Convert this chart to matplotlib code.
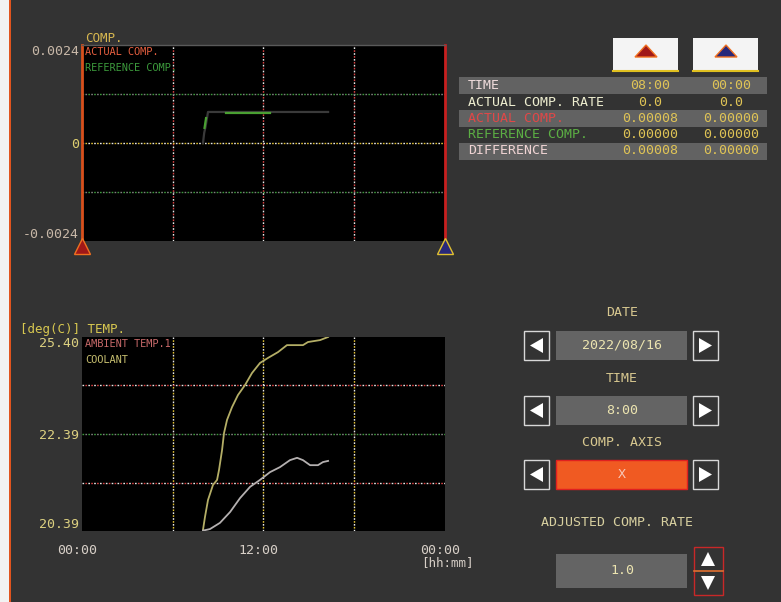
import matplotlib
matplotlib.use("Agg")
import matplotlib.pyplot as plt
import matplotlib.transforms as mtransforms
from matplotlib.patches import Rectangle, Polygon
import numpy as np

W, H = 781, 602
BG = "#333333"
MONO = "DejaVu Sans Mono"

# ---------------- data ----------------
# compensation trace (hours since 00:00)
comp_hours = [8.0, 8.08, 8.17, 8.33, 12.0, 16.27]
actual_comp = [0.0, 0.00025, 0.00040, 0.00076, 0.00076, 0.00076]
ref_hours = [8.10, 8.20, np.nan, 9.52, 12.43]
reference_comp = [0.00037, 0.00061, np.nan, 0.000735, 0.000735]
comp_ticks = [-0.0024, 0.0, 0.0024]
comp_tick_labels = ["-0.0024", "0", "0.0024"]

# temperature traces [deg C]
ambient_hours = [8.0, 8.13, 8.33, 8.66, 8.93, 9.06, 9.26, 9.39, 9.59, 9.92, 10.31,
                 10.78, 11.24, 11.77, 12.30, 12.96, 13.55, 14.61, 14.94, 15.74, 16.27]
ambient_temp = [20.42, 20.75, 21.19, 21.58, 21.71, 21.97, 22.48, 22.92, 23.26, 23.59, 23.90,
                24.16, 24.47, 24.73, 24.86, 25.01, 25.19, 25.19, 25.27, 25.32, 25.40]
coolant_hours = [8.0, 8.46, 9.12, 9.79, 10.45, 11.11, 11.77, 12.43, 13.09, 13.75,
                 14.22, 14.61, 15.08, 15.60, 15.93, 16.27]
coolant_temp = [20.40, 20.44, 20.60, 20.88, 21.24, 21.53, 21.71, 21.91, 22.04, 22.22,
                22.28, 22.22, 22.09, 22.09, 22.17, 22.20]
temp_min, temp_max = 20.39, 25.40
temp_tick_labels = ["20.39", "22.39", "25.40"]

time_ticks = [0, 12, 24]
time_tick_labels = ["00:00", "12:00", "00:00"]

# cursor table
table_rows = ["TIME", "ACTUAL COMP. RATE", "ACTUAL COMP.", "REFERENCE COMP.", "DIFFERENCE"]
cursor_a = ["08:00", "0.0", "0.00008", "0.00000", "0.00008"]
cursor_b = ["00:00", "0.0", "0.00000", "0.00000", "0.00000"]
row_colors = ["#f0dcdc", "#eeeed0", "#e04848", "#5cae44", "#f0d4d4"]

# selector panel
selectors = [("DATE", "2022/08/16"), ("TIME", "8:00"), ("COMP. AXIS", "X")]
adjusted_label = "ADJUSTED COMP. RATE"
adjusted_value = "1.0"

# ---------------- figure ----------------
fig = plt.figure(figsize=(W / 100, H / 100), dpi=100, facecolor=BG)

ui = fig.add_axes([0, 0, 1, 1], zorder=0)
ui.set_xlim(0, W)
ui.set_ylim(H, 0)
ui.axis("off")
ui.set_facecolor("none")

# left frame strip
ui.add_patch(Rectangle((0, 0), 9, H, color="#f2f2f2", lw=0))
ui.add_patch(Rectangle((9, 0), 2, H, color="#e0541e", lw=0))


def px_axes(x0, y0, x1, y1):
    return [x0 / W, 1 - y1 / H, (x1 - x0) / W, (y1 - y0) / H]


def dotted(ax, orient, v, c1, c2):
    fn = ax.axhline if orient == "h" else ax.axvline
    fn(v, color=c1, lw=1.0, ls=(0, (1.2, 3.0)), zorder=1)
    fn(v, color=c2, lw=1.0, ls=(2.1, (1.2, 3.0)), zorder=1)


# ---------------- compensation chart ----------------
ax1 = fig.add_axes(px_axes(82, 45, 445, 241), zorder=2)
ax1.set_facecolor("black")
ax1.set_xlim(0, 24)
ax1.set_ylim(-0.0024, 0.0024)
for s in ax1.spines.values():
    s.set_visible(False)
ax1.spines["left"].set_visible(True)
ax1.spines["left"].set_color("#d8501c")
ax1.spines["left"].set_linewidth(2)
ax1.spines["right"].set_visible(True)
ax1.spines["right"].set_color("#c82020")
ax1.spines["right"].set_linewidth(2)
ax1.spines["top"].set_visible(True)
ax1.spines["top"].set_color("#5a5a5a")
ax1.spines["top"].set_linewidth(1)

for h in [6, 12, 18]:
    dotted(ax1, "v", h, "#e8e8e8", "#d84040")
dotted(ax1, "h", 0.0012, "#3c9a3c", "#808080")
dotted(ax1, "h", 0.0, "#e8e8e8", "#e0c030")
dotted(ax1, "h", -0.0012, "#3c9a3c", "#808080")

ax1.plot(comp_hours, actual_comp, color="#3a3a3a", lw=1.6, zorder=3)
ax1.plot(ref_hours, reference_comp, color="#4aa032", lw=1.6, zorder=4)

ax1.set_xticks([])
ax1.set_yticks(comp_ticks)
ax1.set_yticklabels(comp_tick_labels, family=MONO, fontsize=9.5, color="#c8b8a8")
ax1.tick_params(axis="y", length=0, pad=2)
ylabs = ax1.get_yticklabels()
ylabs[0].set_verticalalignment("bottom")
ylabs[2].set_verticalalignment("top")
ylabs[1].set_color("#e0d070")

ax1.text(0.008, 0.965, "ACTUAL COMP.", transform=ax1.transAxes, family=MONO,
         fontsize=7.4, color="#e86040", va="center", ha="left", zorder=5)
ax1.text(0.008, 0.885, "REFERENCE COMP.", transform=ax1.transAxes, family=MONO,
         fontsize=7.4, color="#3c9a3c", va="center", ha="left", zorder=5)

# cursor markers under the chart
blend = mtransforms.blended_transform_factory(ax1.transData, ax1.transAxes)
ax1.plot([0], [-0.028], marker="^", ms=11, mfc="#a01818", mec="#f07020", mew=1,
         transform=blend, clip_on=False, zorder=6)
ax1.plot([24], [-0.028], marker="^", ms=11, mfc="#28287a", mec="#e0c030", mew=1,
         transform=blend, clip_on=False, zorder=6)

ui.text(85, 38, "COMP.", family=MONO, fontsize=9, color="#d8b850", va="center", ha="left")

# ---------------- temperature chart ----------------
ax2 = fig.add_axes(px_axes(82, 337, 445, 531), zorder=2)
ax2.set_facecolor("black")
ax2.set_xlim(0, 24)
ax2.set_ylim(temp_min, temp_max)
for s in ax2.spines.values():
    s.set_visible(False)

step = (temp_max - temp_min) / 4
for h in [6, 12, 18]:
    dotted(ax2, "v", h, "#e8e8e8", "#e0c030")
dotted(ax2, "h", temp_min + step, "#e8e8e8", "#d84040")
dotted(ax2, "h", temp_min + 2 * step, "#3c9a3c", "#808080")
dotted(ax2, "h", temp_min + 3 * step, "#e8e8e8", "#d84040")

ax2.plot(ambient_hours, ambient_temp, color="#b4ae66", lw=1.3, zorder=3)
ax2.plot(coolant_hours, coolant_temp, color="#b4b0b0", lw=1.3, zorder=3)

ax2.set_yticks([temp_min, temp_min + 2 * step, temp_max])
ax2.set_yticklabels(temp_tick_labels, family=MONO, fontsize=9.5, color="#dcd080")
ax2.tick_params(axis="y", length=0, pad=2)
ylabs2 = ax2.get_yticklabels()
ylabs2[0].set_verticalalignment("bottom")
ylabs2[2].set_verticalalignment("top")

ax2.set_xticks(time_ticks)
ax2.set_xticklabels(time_tick_labels, family=MONO, fontsize=9.5, color="#d8d0c8")
ax2.tick_params(axis="x", length=0, pad=9)
shift = mtransforms.ScaledTranslation(-5 / 100, 0, fig.dpi_scale_trans)
for lab in ax2.get_xticklabels():
    lab.set_transform(lab.get_transform() + shift)

ax2.text(0.008, 0.965, "AMBIENT TEMP.1", transform=ax2.transAxes, family=MONO,
         fontsize=7.4, color="#c86a6a", va="center", ha="left", zorder=5)
ax2.text(0.008, 0.88, "COOLANT", transform=ax2.transAxes, family=MONO,
         fontsize=7.4, color="#c8c070", va="center", ha="left", zorder=5)

ui.text(20, 329, "[deg(C)] TEMP.", family=MONO, fontsize=9, color="#d8c850",
        va="center", ha="left")
ui.text(447, 563, "[hh:mm]", family=MONO, fontsize=9, color="#d8d0c8",
        va="center", ha="center")

# ---------------- cursor buttons ----------------
for x0, fill, edge in [(613, "#a01818", "#f07020"), (693, "#28287a", "#f07020")]:
    ui.add_patch(Rectangle((x0, 38), 65, 33, facecolor="#f4f4f4", edgecolor="none"))
    ui.plot([x0, x0 + 65], [71, 71], color="#e0c020", lw=1.5)
    cx = x0 + 33
    ui.add_patch(Polygon([(cx - 11, 57), (cx + 11, 57), (cx, 45)], closed=True,
                         facecolor=fill, edgecolor=edge, lw=1))

# ---------------- cursor table ----------------
row_y = [85.5, 102, 118, 135, 151]
for i, (lab, a, b) in enumerate(zip(table_rows, cursor_a, cursor_b)):
    y = row_y[i]
    if i % 2 == 0:
        ui.add_patch(Rectangle((459, y - 8.5), 308, 17, facecolor="#626262",
                               edgecolor="none"))
    ui.text(468, y, lab, family=MONO, fontsize=9.5, color=row_colors[i],
            va="center", ha="left")
    ui.text(650, y, a, family=MONO, fontsize=9.5, color="#e0c456",
            va="center", ha="center")
    ui.text(731, y, b, family=MONO, fontsize=9.5, color="#e0c456",
            va="center", ha="center")

# ---------------- selector panel ----------------
def arrow_button(x0, y0, direction):
    ui.add_patch(Rectangle((x0, y0), 25, 29, facecolor=BG, edgecolor="#d8d8d8", lw=1))
    cy = y0 + 14.5
    if direction == "left":
        pts = [(x0 + 6, cy), (x0 + 19, cy - 7.5), (x0 + 19, cy + 7.5)]
    else:
        pts = [(x0 + 19, cy), (x0 + 6, cy - 7.5), (x0 + 6, cy + 7.5)]
    ui.add_patch(Polygon(pts, closed=True, facecolor="white", edgecolor="none"))


label_y = [313, 378, 443]
box_y = [331, 396, 460]
for i, (lab, val) in enumerate(selectors):
    ui.text(622, label_y[i], lab, family=MONO, fontsize=9.5, color="#d8c890",
            va="center", ha="center")
    arrow_button(524, box_y[i], "left")
    arrow_button(693, box_y[i], "right")
    if lab == "COMP. AXIS":
        ui.add_patch(Rectangle((556, box_y[i]), 131, 29, facecolor="#f05a22",
                               edgecolor="#e02020", lw=1))
        ui.text(622, box_y[i] + 14.5, val, family=MONO, fontsize=9.5,
                color="#f8c8b8", va="center", ha="center")
    else:
        ui.add_patch(Rectangle((556, box_y[i]), 131, 29, facecolor="#646464",
                               edgecolor="none"))
        ui.text(622, box_y[i] + 14.5, val, family=MONO, fontsize=9.5,
                color="#ece4b0", va="center", ha="center")

ui.text(617, 523, adjusted_label, family=MONO, fontsize=9.5, color="#d8d0a0",
        va="center", ha="center")
ui.add_patch(Rectangle((556, 554), 131, 34, facecolor="#646464", edgecolor="none"))
ui.text(622, 571, adjusted_value, family=MONO, fontsize=9.5, color="#ece4b0",
        va="center", ha="center")

# up / down stepper
ui.add_patch(Rectangle((694, 547), 29, 48, facecolor=BG, edgecolor="#c82828", lw=1))
ui.plot([694, 723], [571, 571], color="#e07030", lw=1.2)
ui.add_patch(Polygon([(701, 566), (715, 566), (708, 552)], closed=True,
                     facecolor="white", edgecolor="none"))
ui.add_patch(Polygon([(701, 576), (715, 576), (708, 590)], closed=True,
                     facecolor="white", edgecolor="none"))

fig.savefig("out.png", dpi=100, facecolor=BG)
